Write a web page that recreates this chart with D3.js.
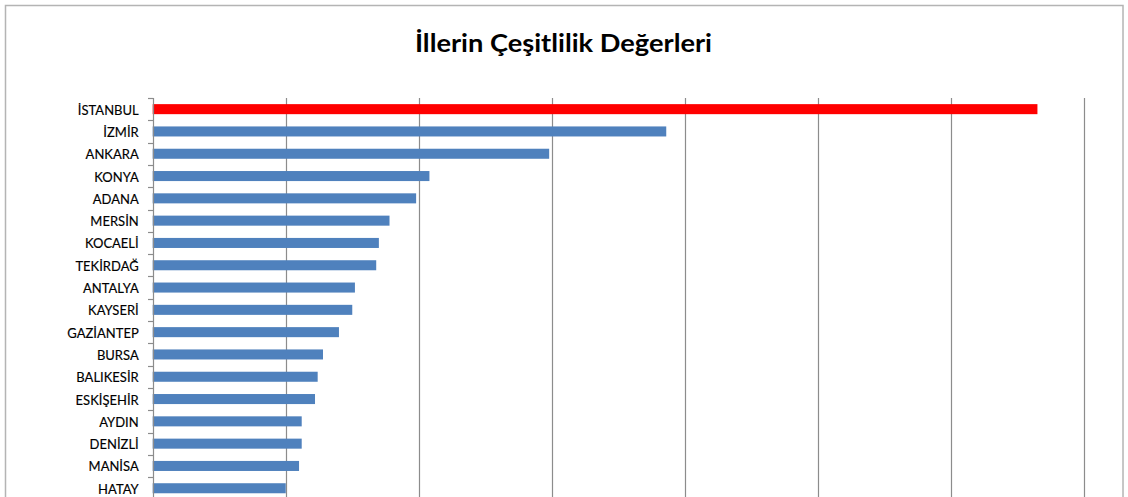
<!DOCTYPE html>
<html>
<head>
<meta charset="utf-8">
<script src="https://cdn.jsdelivr.net/npm/d3@7"></script>
<style>
  html, body { margin: 0; padding: 0; background: #fff; overflow: hidden; }
  svg { display: block; }
</style>
</head>
<body>
<svg id="chart" width="1128" height="497"></svg>
<script>
// Province names, top to bottom
const provinces = [
  "İSTANBUL", "İZMİR", "ANKARA", "KONYA", "ADANA", "MERSİN",
  "KOCAELİ", "TEKİRDAĞ", "ANTALYA", "KAYSERİ", "GAZİANTEP", "BURSA",
  "BALIKESİR", "ESKİŞEHİR", "AYDIN", "DENİZLİ", "MANİSA", "HATAY"
];
// Diversity value of each province
const diversity = [
  0.665, 0.386, 0.298, 0.208, 0.198, 0.178,
  0.170, 0.168, 0.152, 0.150, 0.140, 0.128,
  0.124, 0.122, 0.112, 0.112, 0.110, 0.100
];
// Value gridlines
const gridValues = [0.1, 0.2, 0.3, 0.4, 0.5, 0.6, 0.7];
const highlighted = "İSTANBUL";
const title = "İllerin Çeşitlilik Değerleri";

const data = provinces.map((p, i) => ({ name: p, value: diversity[i] }));

const svg = d3.select("#chart");
const W = 1128, H = 497;

const plot = { left: 152.7, right: 1084, top: 98, step: 22.3 };
const plotBottom = plot.top + plot.step * provinces.length;

const x = d3.scaleLinear().domain([0, 0.7]).range([plot.left, plot.right]);
const y = d3.scaleBand()
  .domain(provinces)
  .range([plot.top, plotBottom])
  .paddingInner(0.55)
  .paddingOuter(0.275);

// Outer chart frame
svg.append("rect")
  .attr("x", 5.5).attr("y", 5.5)
  .attr("width", 1117.5).attr("height", H + 40)
  .attr("fill", "#fff")
  .attr("stroke", "#b4b4b4")
  .attr("stroke-width", 1.5);

// Title
svg.append("text")
  .attr("x", 563.5).attr("y", 52)
  .attr("text-anchor", "middle")
  .attr("font-family", "Lato, 'Open Sans', sans-serif")
  .attr("font-weight", "bold")
  .attr("font-size", 25)
  .attr("textLength", 297)
  .attr("lengthAdjust", "spacingAndGlyphs")
  .attr("fill", "#000")
  .text(title);

// Vertical gridlines
svg.append("g")
  .selectAll("line")
  .data(gridValues)
  .join("line")
  .attr("x1", d => Math.round(x(d)) + 0.5)
  .attr("x2", d => Math.round(x(d)) + 0.5)
  .attr("y1", plot.top)
  .attr("y2", plotBottom + 20)
  .attr("stroke", "#8c8c8c")
  .attr("stroke-width", 1.2);

// Bars
svg.append("g")
  .selectAll("rect")
  .data(data)
  .join("rect")
  .attr("x", x(0))
  .attr("y", d => y(d.name))
  .attr("width", d => x(d.value) - x(0))
  .attr("height", y.bandwidth())
  .attr("fill", d => d.name === highlighted ? "#ff0000" : "#4f81bd");

// Category axis: labels
const axis = d3.axisLeft(y).tickSize(0).tickPadding(14);
const gAxis = svg.append("g")
  .attr("transform", `translate(${plot.left},0)`)
  .call(axis);
gAxis.select(".domain").remove();
gAxis.selectAll("text")
  .attr("font-family", "Lato, 'Open Sans', sans-serif")
  .attr("font-size", 13)
  .attr("fill", "#000")
  .attr("stroke", "#000")
  .attr("stroke-width", 0.15)
  .attr("dy", "0.42em");

// Axis line and tick marks between categories
const axisX = Math.round(plot.left) + 0.5;
svg.append("line")
  .attr("x1", axisX).attr("x2", axisX)
  .attr("y1", plot.top).attr("y2", plotBottom + 20)
  .attr("stroke", "#8c8c8c").attr("stroke-width", 1.2);

const boundaries = d3.range(provinces.length + 1).map(i => plot.top + i * y.step());
svg.append("g")
  .selectAll("line")
  .data(boundaries)
  .join("line")
  .attr("x1", axisX - 5.5).attr("x2", axisX)
  .attr("y1", d => Math.round(d) + 0.5)
  .attr("y2", d => Math.round(d) + 0.5)
  .attr("stroke", "#8c8c8c").attr("stroke-width", 1.2);
</script>
</body>
</html>
